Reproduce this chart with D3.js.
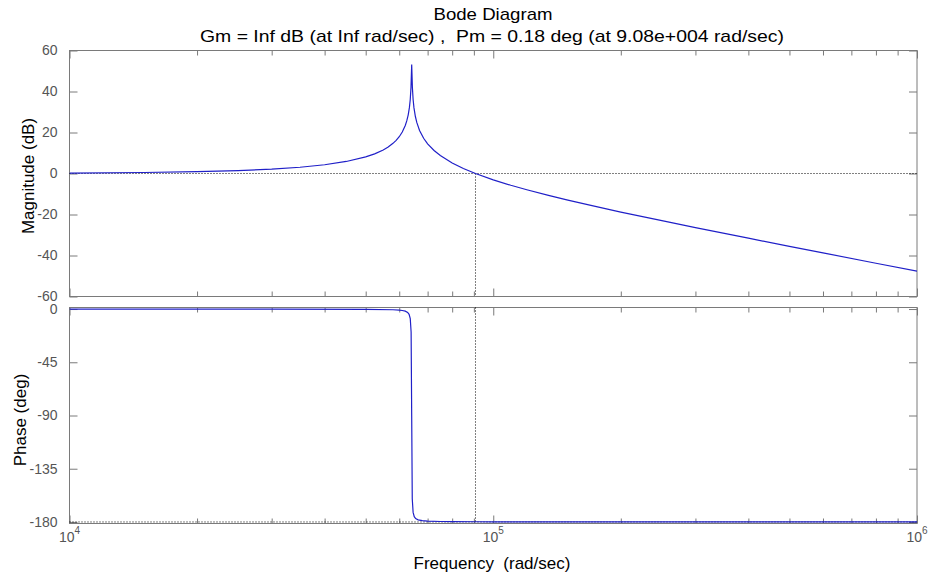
<!DOCTYPE html>
<html>
<head>
<meta charset="utf-8">
<script src="https://cdn.jsdelivr.net/npm/d3@7"></script>
<style>
  body{margin:0;background:#fff;}
  svg text{font-family:"Liberation Sans",Arial,Helvetica,sans-serif;}
</style>
</head>
<body>
<div id="chart"></div>
<script>
// values
const magFreq=[1e4,1.5e4,2e4,2.5e4,3e4,3.5e4,4e4,4.5e4,5e4,5.25e4,5.5e4,5.65e4,5.8e4,5.9e4,6e4,6.1e4,6.2e4,6.25e4,6.3e4,6.34e4,6.37e4,6.395e4,6.42e4,6.445e4,6.47e4,6.5e4,6.55e4,6.6e4,6.7e4,6.85e4,7e4,7.25e4,7.5e4,8e4,8.5e4,9.08e4,1e5,1.1e5,1.2e5,1.35e5,1.5e5,1.7e5,2e5,2.5e5,3e5,4e5,5e5,6e5,8e5,1e6];
const magDb=[0.21,0.49,0.89,1.43,2.14,3.06,4.27,5.87,8.1,9.6,11.5,12.94,14.71,16.17,17.95,20.25,23.43,25.64,28.6,32.12,36.1,41.85,53.2,41.8,36.1,32.0,27.8,24.9,21.0,17.17,14.48,11.21,8.76,5.15,2.46,0,-3.08,-5.74,-7.94,-10.69,-12.98,-15.58,-18.8,-23.02,-26.38,-31.55,-35.51,-38.72,-43.77,-47.66];
const phaseFreq=[1e4,3e4,5e4,5.8e4,6e4,6.1e4,6.2e4,6.28e4,6.33e4,6.37e4,6.4e4,6.42e4,6.44e4,6.47e4,6.51e4,6.56e4,6.65e4,6.8e4,7e4,7.5e4,8e4,9.08e4,1e5,2e5,5e5,1e6];
const phaseDeg=[-0.02,-0.08,-0.25,-0.62,-0.93,-1.23,-1.81,-2.86,-4.45,-8.0,-19.4,-90,-160.6,-171.9,-175.5,-177.1,-178.2,-178.9,-179.27,-179.6,-179.72,-179.82,-179.86,-179.98,-179.99,-180];
const magTicks=[-60,-40,-20,0,20,40,60];
const phaseTicks=[-180,-135,-90,-45,0];
const decades=[1e4,1e5,1e6];
const minorFreq=[2e4,3e4,4e4,5e4,6e4,7e4,8e4,9e4,2e5,3e5,4e5,5e5,6e5,7e5,8e5,9e5];
const wc=9.08e4;
const titleLines=["Bode Diagram","Gm = Inf dB (at Inf rad/sec) ,  Pm = 0.18 deg (at 9.08e+004 rad/sec)"];

const W=930,H=578;
const frameCol="#7a7a7a",labelCol="#555",lineCol="#2020c8";
const svg=d3.select("#chart").append("svg").attr("width",W).attr("height",H);

const x=d3.scaleLog().domain([1e4,1e6]).range([69.5,917]);
const yMag=d3.scaleLinear().domain([-60,60]).range([296.5,50.5]);
const yPh=d3.scaleLinear().domain([-181.3,1.3]).range([523.5,307.5]);

function panel(y,ticks,id){
    let top=y.range()[1],bot=y.range()[0];
    let g=svg.append("g");
    g.append("clipPath").attr("id",id).append("rect")
        .attr("x",x.range()[0]).attr("y",top).attr("width",x.range()[1]-x.range()[0]).attr("height",bot-top);
    // y ticks both sides, inward
    let yl=g.append("g").attr("transform","translate("+x.range()[0]+",0)")
        .call(d3.axisLeft(y).tickValues(ticks).tickSize(-8).tickPadding(12).tickFormat(d=>String(d)));
    let yr=g.append("g").attr("transform","translate("+x.range()[1]+",0)")
        .call(d3.axisRight(y).tickValues(ticks).tickSize(-8).tickFormat(""));
    // x ticks top and bottom
    [[top,d3.axisTop],[bot,d3.axisBottom]].forEach(function(s){
        let a=g.append("g").attr("transform","translate(0,"+s[0]+")");
        a.call(s[1](x).tickValues(minorFreq).tickSize(-5).tickFormat(""));
        let b=g.append("g").attr("transform","translate(0,"+s[0]+")");
        b.call(s[1](x).tickValues(decades).tickSize(-8).tickFormat(""));
        a.select(".domain").remove();b.select(".domain").remove();
    });
    yr.select(".domain").remove();yl.select(".domain").remove();
    g.append("rect").attr("x",x.range()[0]).attr("y",top)
        .attr("width",x.range()[1]-x.range()[0]).attr("height",bot-top)
        .attr("fill","none").attr("stroke",frameCol);
    g.selectAll(".tick line").attr("stroke",frameCol);
    g.selectAll(".tick text").attr("fill",labelCol).attr("font-size",14)
        .attr("font-family","'Liberation Sans',Arial,sans-serif");
    return g;
}

let gm=panel(yMag,magTicks,"clipMag");
let gp=panel(yPh,phaseTicks,"clipPh");

// reference dotted lines
gm.append("line").attr("x1",x(1e4)).attr("x2",x(1e6)).attr("y1",yMag(0)).attr("y2",yMag(0))
    .attr("stroke","#000").attr("stroke-dasharray","1,2");
gm.append("line").attr("x1",x(wc)).attr("x2",x(wc)).attr("y1",yMag(0)).attr("y2",yMag(-60))
    .attr("stroke","#000").attr("stroke-dasharray","1,2");
gp.append("line").attr("x1",x(1e4)).attr("x2",x(1e6)).attr("y1",yPh(-180)).attr("y2",yPh(-180))
    .attr("stroke","#000").attr("stroke-dasharray","1,2");
gp.append("line").attr("x1",x(wc)).attr("x2",x(wc)).attr("y1",yPh(1.3)).attr("y2",yPh(-180))
    .attr("stroke","#000").attr("stroke-dasharray","1,2");

// curves
gm.append("path").datum(d3.zip(magFreq,magDb))
    .attr("clip-path","url(#clipMag)")
    .attr("fill","none").attr("stroke",lineCol).attr("stroke-width",1.2)
    .attr("d",d3.line().x(d=>x(d[0])).y(d=>yMag(d[1])));
gp.append("path").datum(d3.zip(phaseFreq,phaseDeg))
    .attr("clip-path","url(#clipPh)")
    .attr("fill","none").attr("stroke",lineCol).attr("stroke-width",1.2)
    .attr("d",d3.line().x(d=>x(d[0])).y(d=>yPh(d[1])));

// decade labels 10^n
let xl=svg.append("g").selectAll("text").data(decades).join("text")
    .attr("x",d=>x(d)).attr("y",542).attr("text-anchor","middle")
    .attr("fill",labelCol).attr("font-size",14);
xl.append("tspan").text("10");
xl.append("tspan").attr("dy",-8).attr("font-size",10).text(d=>Math.round(Math.log10(d)));

// axis titles
svg.append("text").attr("transform","translate(34,176) rotate(-90)").attr("text-anchor","middle")
    .attr("font-size",17).attr("fill","#000").text("Magnitude (dB)");
svg.append("text").attr("transform","translate(26,420) rotate(-90)").attr("text-anchor","middle")
    .attr("font-size",17).attr("fill","#000").text("Phase (deg)");
svg.append("text").attr("x",492).attr("y",569).attr("text-anchor","middle")
    .attr("font-size",17).attr("fill","#000").attr("xml:space","preserve").text("Frequency  (rad/sec)");

// title
svg.append("text").attr("x",493).attr("y",20).attr("text-anchor","middle").attr("font-size",17)
    .attr("textLength",119).attr("lengthAdjust","spacingAndGlyphs").text(titleLines[0]);
svg.append("text").attr("x",492).attr("y",42).attr("text-anchor","middle").attr("font-size",17)
    .attr("xml:space","preserve")
    .attr("textLength",584).attr("lengthAdjust","spacingAndGlyphs").text(titleLines[1]);
</script>
</body>
</html>
